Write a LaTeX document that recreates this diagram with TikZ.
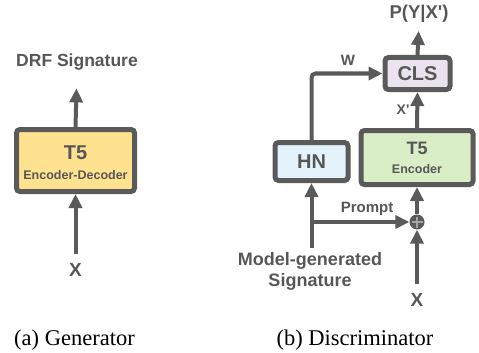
\documentclass[tikz,border=0pt]{standalone}
\usepackage{fontspec}
\newfontfamily\hv{Liberation Sans}
\newfontfamily\tm{Liberation Serif}
\usetikzlibrary{arrows.meta}
\definecolor{dg}{HTML}{5A5A5A}
\definecolor{tg}{HTML}{575757}
\definecolor{yel}{HTML}{FFE28F}
\definecolor{grn}{HTML}{D9EDC6}
\definecolor{blu}{HTML}{E3F2FB}
\definecolor{lav}{HTML}{EAE2EE}
\newcommand{\fs}[1]{\fontsize{#1}{#1}\selectfont}
\begin{document}
\begin{tikzpicture}[x=1pt,y=-1pt,
  box/.style={draw=dg, line width=5pt, rounded corners=3.5pt, inner sep=0pt, text=tg, font=\hv\bfseries},
  arr/.style={draw=dg, line width=4pt, -{Triangle[width=13pt,length=14pt]}},
  lbl/.style={text=tg, font=\hv\bfseries, inner sep=0pt},
  captxt/.style={text=black, font=\tm\fs{22.5}, inner sep=0pt}]
\useasboundingbox (0,0) rectangle (479,353);
% ---------- (a) Generator ----------
\node[lbl, font=\hv\bfseries\fs{17.5}] (drf) at (77,62) {DRF Signature};
\node[box, fill=yel, minimum width=118pt, minimum height=62pt] (gen) at (75.5,160.5) {};
\node[lbl, font=\hv\bfseries\fs{20}] (t5a) at (75.5,153) {T5};
\node[lbl, font=\hv\bfseries\fs{12.5}] (encdec) at (75.5,175) {Encoder-Decoder};
\node[lbl, font=\hv\bfseries\fs{19}] (xa) at (75.5,270) {X};
\draw[arr, shorten >=18pt] (gen.north) -- (drf.south);
\draw[arr, shorten <=9pt] (xa.north) -- (gen.south);
% ---------- (b) Discriminator ----------
\node[lbl, font=\hv\bfseries\fs{18.5}] (pyx) at (419,14) {P(Y|X')};
\node[box, fill=lav, minimum width=65pt, minimum height=32pt, font=\hv\bfseries\fs{20}] (cls) at (417.5,73.5) {CLS};
\node[box, fill=blu, minimum width=73pt, minimum height=38pt, font=\hv\bfseries\fs{20}] (hn) at (311.5,161.5) {HN};
\node[box, fill=grn, minimum width=112pt, minimum height=54pt] (enc) at (417,157.5) {};
\node[lbl, font=\hv\bfseries\fs{18}] (t5b) at (417,148) {T5};
\node[lbl, font=\hv\bfseries\fs{12.5}] (encl) at (417,169) {Encoder};
\node[circle, fill=dg, minimum size=15pt, inner sep=0pt,
  path picture={\draw[white!45!dg, line width=1.6pt]
    ([yshift=-2pt]path picture bounding box.north) -- ([yshift=2pt]path picture bounding box.south)
    ([xshift=2pt]path picture bounding box.west) -- ([xshift=-2pt]path picture bounding box.east);}] (plus) at (417,222) {};
\node[lbl, font=\hv\bfseries\fs{19}] (xb) at (417,300) {X};
\node[lbl, font=\hv\bfseries\fs{18}, align=center] (msig) at (310,271) {Model-generated\\[3pt]Signature};
\coordinate (mstop) at (311.5,248);
\coordinate (junc) at (311.5,222);
\node[lbl, font=\hv\bfseries\fs{15}] (wl) at (348,60) {W};
\node[lbl, font=\hv\bfseries\fs{14}] (xpl) at (403,110) {X'};
\node[lbl, font=\hv\bfseries\fs{15}] (prl) at (367,209) {Prompt};
\draw[arr, shorten >=8pt] (cls.north) -- (pyx.south);
\draw[arr, rounded corners=4pt] (hn.north) |- (cls.west);
\draw[arr] (enc.north) -- (cls.south);
\draw[arr] (mstop) -- (hn.south);
\draw[arr] (junc) -- (plus.west);
\draw[arr] (plus.north) -- (enc.south);
\draw[arr, shorten <=9pt] (xb.north) -- (plus.south);
% ---------- captions ----------
\node[captxt] (capa) at (74.5,340) {(a) Generator};
\node[captxt] (capb) at (355,340) {(b) Discriminator};
\end{tikzpicture}
\end{document}
